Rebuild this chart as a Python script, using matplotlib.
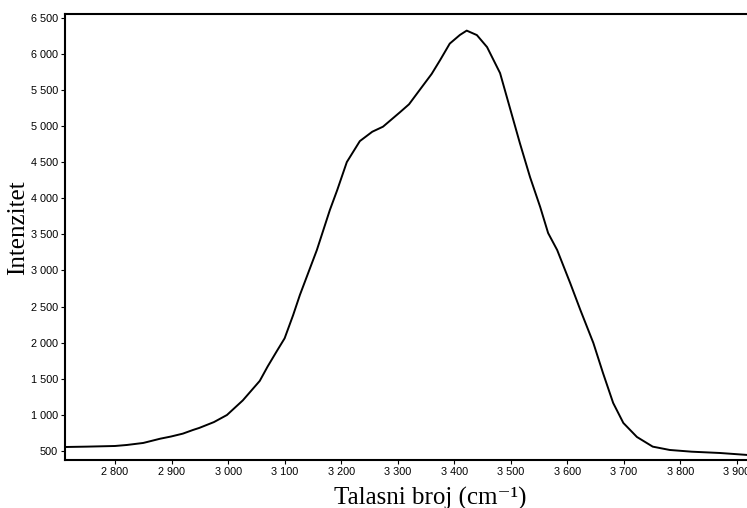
import matplotlib
matplotlib.use("Agg")
import matplotlib.pyplot as plt
from matplotlib.ticker import FuncFormatter

wavenumber = [2712, 2750, 2800, 2821, 2850, 2880, 2899, 2920, 2938, 2949, 2975, 2998,
              3026, 3056, 3070, 3086, 3100, 3115, 3127, 3157, 3180, 3193, 3210, 3233,
              3255, 3274, 3304, 3320, 3339, 3360, 3375, 3392, 3410, 3422, 3440, 3458,
              3481, 3498, 3516, 3534, 3552, 3566, 3582, 3605, 3623, 3646, 3663, 3681,
              3699, 3723, 3751, 3781, 3820, 3870, 3918]
intensity = [555, 560, 569, 583, 611, 670, 700, 740, 791, 819, 900, 998,
             1200, 1470, 1670, 1880, 2060, 2380, 2660, 3282, 3836, 4112, 4500, 4790,
             4920, 4990, 5190, 5300, 5500, 5720, 5912, 6140, 6260, 6320, 6258, 6092,
             5732, 5261, 4763, 4292, 3877, 3517, 3282, 2825, 2452, 1995, 1580, 1165,
             888, 694, 560, 514, 490, 472, 445]

xticks = [2800, 2900, 3000, 3100, 3200, 3300, 3400, 3500, 3600, 3700, 3800, 3900]
yticks = [500, 1000, 1500, 2000, 2500, 3000, 3500, 4000, 4500, 5000, 5500, 6000, 6500]

fig = plt.figure(figsize=(7.47, 5.08), dpi=100)
ax = fig.add_axes([65/747, 1-460/508, 1-65/747, (460-14)/508])

ax.plot(wavenumber, intensity, color="black", lw=1.4)

ax.set_xlim(2711.6, 3917.7)
ax.set_ylim(375, 6550)
ax.set_xticks(xticks)
ax.set_yticks(yticks)

def fmt(v, pos):
    s = f"{int(round(v)):,}"
    return s.replace(",", " ")

ax.xaxis.set_major_formatter(FuncFormatter(fmt))
ax.yaxis.set_major_formatter(FuncFormatter(fmt))

for lab in ax.get_xticklabels() + ax.get_yticklabels():
    lab.set_family(["Liberation Sans", "DejaVu Sans"])
    lab.set_fontsize(7.8)

ax.tick_params(axis="both", direction="out", length=3, width=0.8, pad=2, colors="black")
ax.spines["right"].set_visible(False)
for s in ["left", "bottom", "top"]:
    ax.spines[s].set_linewidth(1.5)

fig.text(18/747, 1-228/508, "Intenzitet", rotation=90, ha="center", va="center",
         fontsize=18, family=["Liberation Serif", "DejaVu Serif"])
fig.text(430/747, 1-498/508, "Talasni broj (cm\u207b\u00b9)", ha="center", va="center",
         fontsize=18, family=["Liberation Serif", "DejaVu Serif"])

fig.savefig("out.png", dpi=100)
